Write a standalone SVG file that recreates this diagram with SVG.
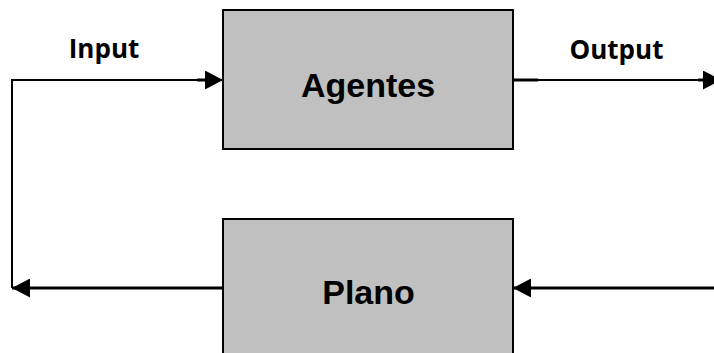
<svg xmlns="http://www.w3.org/2000/svg" width="714" height="353" viewBox="0 0 714 353">
  <style>
    .box { fill: #c0c0c0; stroke: #000; stroke-width: 2; }
    .title { font-family: "Liberation Sans", Arial, sans-serif; font-weight: bold; font-size: 34px; fill: #000; text-anchor: middle; }
    .label { font-family: "Open Sans", "DejaVu Sans", sans-serif; font-weight: bold; font-size: 26px; fill: #000; text-anchor: middle; }
    .line { fill: none; stroke: #000; stroke-width: 2; }
    .thick { fill: none; stroke: #000; stroke-width: 3; }
  </style>
  <defs>
    <marker id="arrow" viewBox="0 0 18 19" markerUnits="userSpaceOnUse" markerWidth="18" markerHeight="19" refX="18" refY="9.5" orient="auto">
      <path d="M0,0 L18,9.5 L0,19 z" fill="#000"/>
    </marker>
  </defs>
  <rect width="714" height="353" fill="#fff"/>
  <g id="connectors">
    <path class="line" d="M12,80 H223" marker-end="url(#arrow)"/>
    <path class="thick" d="M197,80 H206"/>
    <path class="line" d="M513,80 H721" marker-end="url(#arrow)"/>
    <path class="thick" d="M513,80 H538"/>
    <path class="thick" d="M698,80 H704"/>
    <path class="thick" d="M714,288 H513" marker-end="url(#arrow)"/>
    <path class="thick" d="M223,288 H12" marker-end="url(#arrow)"/>
    <path class="line" d="M12,288 V79"/>
    <text class="label" x="104" y="58">Input</text>
    <text class="label" x="616.5" y="59">Output</text>
  </g>
  <g id="agentes">
    <rect class="box" x="223" y="10" width="290" height="139"/>
    <text class="title" x="368" y="97">Agentes</text>
  </g>
  <g id="plano">
    <rect class="box" x="223" y="219" width="290" height="150"/>
    <text class="title" x="368.5" y="304">Plano</text>
  </g>
</svg>
